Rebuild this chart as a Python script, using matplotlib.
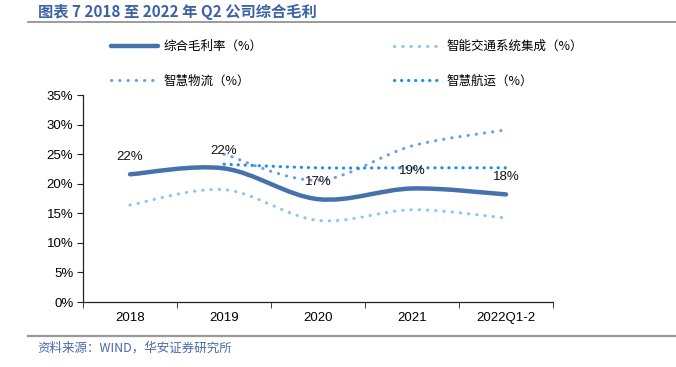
import numpy as np
import matplotlib
matplotlib.use('Agg')
import matplotlib.pyplot as plt
from matplotlib.path import Path
from matplotlib.patches import PathPatch
from matplotlib.lines import Line2D

plt.rcParams['font.family'] = ['Liberation Sans', 'Noto Sans CJK SC', 'DejaVu Sans']

# data (percent)
categories = ['2018', '2019', '2020', '2021', '2022Q1-2']
gross_margin = [21.6, 22.6, 17.4, 19.2, 18.2]
transport = [16.4, 19.0, 13.8, 15.6, 14.2]
logistics = [None, 25.0, 20.6, 26.4, 29.1]
shipping = [None, 23.3, 22.7, 22.7, 22.7]
margin_labels = ['22%', '22%', '17%', '19%', '18%']

names = ['综合毛利率（%）', '智能交通系统集成（%）', '智慧物流（%）', '智慧航运（%）']
colors = ['#4671aa', '#86c6f0', '#6c9fe0', '#1a8fe3']


def smooth_path(xs, ys):
    # Bezier path through the points (like a smoothed office line)
    pts = [(x, y) for x, y in zip(xs, ys) if y is not None]
    verts = [pts[0]]
    codes = [Path.MOVETO]
    n = len(pts)
    for i in range(n - 1):
        p0 = pts[i - 1] if i > 0 else pts[i]
        p1 = pts[i]
        p2 = pts[i + 1]
        p3 = pts[i + 2] if i + 2 < n else pts[i + 1]
        c1 = (p1[0] + (p2[0] - p0[0]) / 6, p1[1] + (p2[1] - p0[1]) / 6)
        c2 = (p2[0] - (p3[0] - p1[0]) / 6, p2[1] - (p3[1] - p1[1]) / 6)
        verts += [c1, c2, p2]
        codes += [Path.CURVE4] * 3
    return Path(verts, codes)


fig = plt.figure(figsize=(6.76, 3.67), dpi=100)
ax = fig.add_axes([0.1228, 0.177, 0.6953, 0.564])

x = np.arange(len(categories))
series = [gross_margin, transport, logistics, shipping]
styles = [dict(lw=3.2, ls='-', capstyle='round'),
          dict(lw=2.2, ls=(0, (0.1, 2.6)), capstyle='round'),
          dict(lw=2.2, ls=(0, (0.1, 2.6)), capstyle='round'),
          dict(lw=2.2, ls=(0, (0.1, 2.2)), capstyle='round')]
order = [1, 2, 3, 0]
for i in order:
    p = PathPatch(smooth_path(x, series[i]), fill=False, edgecolor=colors[i],
                  linewidth=styles[i]['lw'], linestyle=styles[i]['ls'],
                  capstyle=styles[i]['capstyle'], zorder=3 if i == 0 else 2)
    ax.add_patch(p)

for xi, yi, lab in zip(x, gross_margin, margin_labels):
    ax.annotate(lab, (xi, yi), xytext=(0, 8), textcoords='offset points',
                ha='center', va='bottom', fontsize=9.5, color='#111111', zorder=4)

ax.set_xlim(-0.5, len(categories) - 0.5)
ax.set_ylim(0, 35)
ax.set_yticks(np.arange(0, 36, 5))
ax.set_yticklabels([f'{v}%' for v in range(0, 36, 5)], fontsize=9.5)
ax.set_xticks(x)
ax.set_xticklabels(categories, fontsize=9.5)
ax.set_xticks(np.arange(-0.5, len(categories), 1), minor=True)
ax.tick_params(axis='x', which='major', length=0, pad=7)
ax.tick_params(axis='x', which='minor', length=4, direction='out', color='#222222')
ax.tick_params(axis='y', length=4, direction='out', color='#222222', pad=3)
for s in ['top', 'right']:
    ax.spines[s].set_visible(False)
for s in ['left', 'bottom']:
    ax.spines[s].set_color('#222222')
    ax.spines[s].set_linewidth(0.9)

handles = []
for i in range(4):
    handles.append(Line2D([0], [0], color=colors[i], lw=styles[i]['lw'],
                          ls=styles[i]['ls'], dash_capstyle='round',
                          solid_capstyle='round'))
leg_order = [0, 2, 1, 3]
fig.legend([handles[i] for i in leg_order], [names[i] for i in leg_order],
           ncol=2, loc='upper left', bbox_to_anchor=(0.148, 0.921),
           frameon=False, handlelength=3.7, handletextpad=0.5,
           columnspacing=10.5, labelspacing=1.7,
           prop={'family': ['Noto Sans CJK SC'], 'size': 9})

fig.text(0.056, 0.967, '图表 7 2018 至 2022 年 Q2 公司综合毛利', fontsize=11,
         fontweight='bold', color='#3b62a4', va='center', ha='left',
         family=['Noto Sans CJK SC'])
fig.add_artist(Line2D([0.041, 1.0], [0.94, 0.94], color='#8a8a8a', lw=1.2,
                      transform=fig.transFigure))
fig.add_artist(Line2D([0.041, 1.0], [0.084, 0.084], color='#9a9a9a', lw=1.6,
                      transform=fig.transFigure))
fig.text(0.056, 0.05, '资料来源：WIND，华安证券研究所', fontsize=9,
         color='#4a6aa5', va='center', ha='left', family=['Noto Sans CJK SC'])

fig.savefig('out.png', dpi=100)
